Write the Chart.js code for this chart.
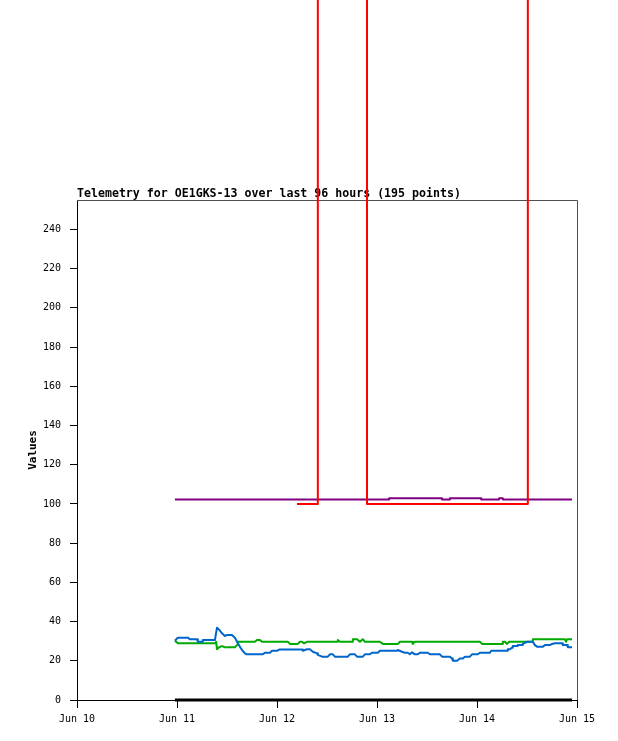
<!DOCTYPE html>
<html>
<head>
<meta charset="utf-8">
<script src="https://cdn.jsdelivr.net/npm/chart.js@4.4.1/dist/chart.umd.min.js"></script>
<style>
    body { margin: 0; background: #fff; }
    canvas { display: block; }
</style>
</head>
<body>
<canvas id="telemetryChart" width="618" height="741"></canvas>
<script>
// x values are hours since Jun 10 00:00
const xTickHours = [0, 24, 48, 72, 96, 120];
const xTickLabels = ["Jun 10", "Jun 11", "Jun 12", "Jun 13", "Jun 14", "Jun 15"];
const yTicks = [0, 20, 40, 60, 80, 100, 120, 140, 160, 180, 200, 220, 240];

const blueHours = [23.5, 24.2, 26.6, 27.1, 28.8, 29.0, 30.0, 30.2, 33.1, 33.6, 34.1, 34.8, 35.5, 36.0, 37.2, 37.9, 38.4, 39.1, 39.6, 40.3,
    40.8, 44.6, 45.1, 46.3, 46.8, 48.0, 48.5, 54.0, 54.2, 55.2, 55.9, 56.6, 57.6, 57.8, 58.8, 60.2, 60.7, 61.4, 61.9, 65.0,
    65.5, 66.7, 67.2, 68.6, 69.1, 70.3, 70.8, 72.2, 72.7, 76.8, 77.0, 78.0, 78.7, 79.4, 79.9, 80.4, 80.6, 81.1, 81.8, 82.3,
    84.2, 84.7, 87.1, 87.6, 89.5, 90.0, 90.2, 91.2, 91.9, 92.6, 93.1, 94.3, 94.8, 96.2, 96.7, 99.1, 99.4, 103.2, 103.4, 103.9,
    104.4, 104.6, 105.6, 105.8, 106.8, 107.0, 108.0, 109.4, 109.9, 110.4, 111.8, 112.3, 113.5, 114.0, 114.7, 116.4, 116.6, 117.6, 117.8, 118.8];
const blueValues = [30.2, 31.8, 31.8, 31.0, 31.0, 29.7, 29.7, 30.6, 30.6, 36.9, 35.9, 34.0, 32.6, 33.2, 33.2, 31.8, 29.7, 27.2, 25.5, 23.8,
    23.3, 23.3, 24.1, 24.1, 25.1, 25.1, 25.7, 25.7, 25.1, 25.9, 25.9, 24.6, 23.8, 23.0, 22.1, 22.1, 23.3, 23.3, 22.1, 22.1,
    23.3, 23.3, 22.1, 22.1, 23.3, 23.3, 24.1, 24.1, 25.1, 25.1, 25.5, 24.6, 24.1, 24.1, 23.3, 24.3, 24.3, 23.3, 23.3, 24.1,
    24.1, 23.3, 23.3, 22.1, 22.1, 21.2, 20.0, 20.0, 21.2, 21.2, 22.1, 22.1, 23.3, 23.3, 24.1, 24.1, 25.1, 25.1, 25.9, 25.9,
    26.7, 27.5, 27.5, 28.0, 28.0, 28.6, 29.7, 29.7, 28.0, 27.2, 27.2, 28.0, 28.0, 28.6, 28.9, 28.9, 28.0, 28.0, 26.9, 26.9];

const greenHours = [23.5, 24.2, 33.1, 33.4, 33.6, 34.1, 34.8, 35.5, 37.9, 38.4, 38.6, 42.7, 43.2, 43.9, 44.4, 50.6, 51.1, 53.0, 53.5, 54.0,
    54.5, 55.2, 62.4, 62.6, 63.1, 66.0, 66.2, 67.2, 67.9, 68.6, 69.1, 72.7, 73.4, 77.0, 77.5, 80.4, 80.6, 81.1, 96.7, 97.2,
    102.0, 102.2, 102.7, 103.2, 103.7, 109.2, 109.4, 117.1, 117.4, 117.6, 118.8];
const greenValues = [30.2, 28.9, 28.9, 29.7, 25.9, 26.9, 27.5, 26.9, 26.9, 28.0, 29.7, 29.7, 30.6, 30.6, 29.7, 29.7, 28.6, 28.6, 29.7, 29.7,
    28.9, 29.7, 29.7, 30.6, 29.7, 29.7, 31.0, 31.0, 29.7, 31.0, 29.7, 29.7, 28.6, 28.6, 29.7, 29.7, 28.6, 29.7, 29.7, 28.6,
    28.6, 29.7, 29.7, 28.6, 29.7, 29.7, 31.0, 31.0, 29.7, 31.0, 31.0];

const purpleHours = [23.5, 74.9, 87.6, 89.5, 97.0, 101.3, 102.2, 118.8];
const purpleValues = [102.2, 102.9, 102.2, 102.9, 102.2, 102.9, 102.2, 102.2];

const redHours = [52.8, 57.8, 69.6, 108.2, 118.8];
const redValues = [100, 1000, 100, 1000, 1000];

const blackHours = [23.5, 118.8];
const blackValues = [0, 0];

function points(hours, values) {
    return hours.map((h, i) => ({ x: h, y: values[i] }));
}

const frameAndText = {
    id: "frameAndText",
    beforeDatasetsDraw(chart) {
        const { ctx, chartArea } = chart;
        ctx.save();
        ctx.strokeStyle = "#505050";
        ctx.lineWidth = 1;
        ctx.beginPath();
        ctx.moveTo(chartArea.left, chartArea.top + 0.5);
        ctx.lineTo(chartArea.right + 0.5, chartArea.top + 0.5);
        ctx.lineTo(chartArea.right + 0.5, chartArea.bottom);
        ctx.stroke();

        ctx.fillStyle = "#000";
        ctx.font = "bold 11.6px 'DejaVu Sans Mono'";
        ctx.textAlign = "left";
        ctx.textBaseline = "alphabetic";
        ctx.fillText("Telemetry for OE1GKS-13 over last 96 hours (195 points)", chartArea.left, chartArea.top - 3);

        ctx.translate(36, (chartArea.top + chartArea.bottom) / 2);
        ctx.rotate(-Math.PI / 2);
        ctx.font = "bold 11px 'DejaVu Sans Mono'";
        ctx.textAlign = "center";
        ctx.fillText("Values", 0, 0);
        ctx.restore();
    }
};

const ctx = document.getElementById("telemetryChart").getContext("2d");
const telemetryChart = new Chart(ctx, {
    type: "line",
    data: {
        datasets: [
            { data: points(redHours, redValues), borderColor: "#ff0000", borderWidth: 2, stepped: true, order: 0 },
            { data: points(purpleHours, purpleValues), borderColor: "#800080", borderWidth: 2, stepped: true, order: 1 },
            { data: points(blueHours, blueValues), borderColor: "#0066cc", borderWidth: 2, order: 2 },
            { data: points(greenHours, greenValues), borderColor: "#00aa00", borderWidth: 2, order: 3 },
            { data: points(blackHours, blackValues), borderColor: "#000000", borderWidth: 3, order: 4 }
        ]
    },
    options: {
        responsive: false,
        animation: false,
        devicePixelRatio: 1,
        layout: { padding: { top: 200, right: 41, left: 0, bottom: 0 } },
        elements: {
            point: { radius: 0 },
            line: { tension: 0, fill: false, borderCapStyle: "butt", borderJoinStyle: "round" }
        },
        datasets: { line: { clip: false } },
        scales: {
            x: {
                type: "linear",
                min: 0,
                max: 120,
                afterFit: (scale) => { scale.height = 41; },
                afterBuildTicks: (scale) => { scale.ticks = xTickHours.map(v => ({ value: v })); },
                grid: { drawOnChartArea: false, drawTicks: true, tickLength: 8, color: "#000" },
                border: { display: true, color: "#000" },
                ticks: {
                    color: "#000",
                    padding: 5,
                    maxRotation: 0,
                    font: { family: "'DejaVu Sans Mono'", size: 10 },
                    callback: (value) => xTickLabels[xTickHours.indexOf(value)]
                }
            },
            y: {
                type: "linear",
                min: 0,
                max: 255,
                afterFit: (scale) => { scale.width = 77; },
                afterBuildTicks: (scale) => { scale.ticks = yTicks.map(v => ({ value: v })); },
                grid: { drawOnChartArea: false, drawTicks: true, tickLength: 7, color: "#000" },
                border: { display: true, color: "#000" },
                ticks: {
                    color: "#000",
                    padding: 9,
                    font: { family: "'DejaVu Sans Mono'", size: 10 }
                }
            }
        },
        plugins: {
            legend: { display: false },
            title: { display: false },
            tooltip: { enabled: false }
        }
    },
    plugins: [frameAndText]
});
</script>
</body>
</html>
